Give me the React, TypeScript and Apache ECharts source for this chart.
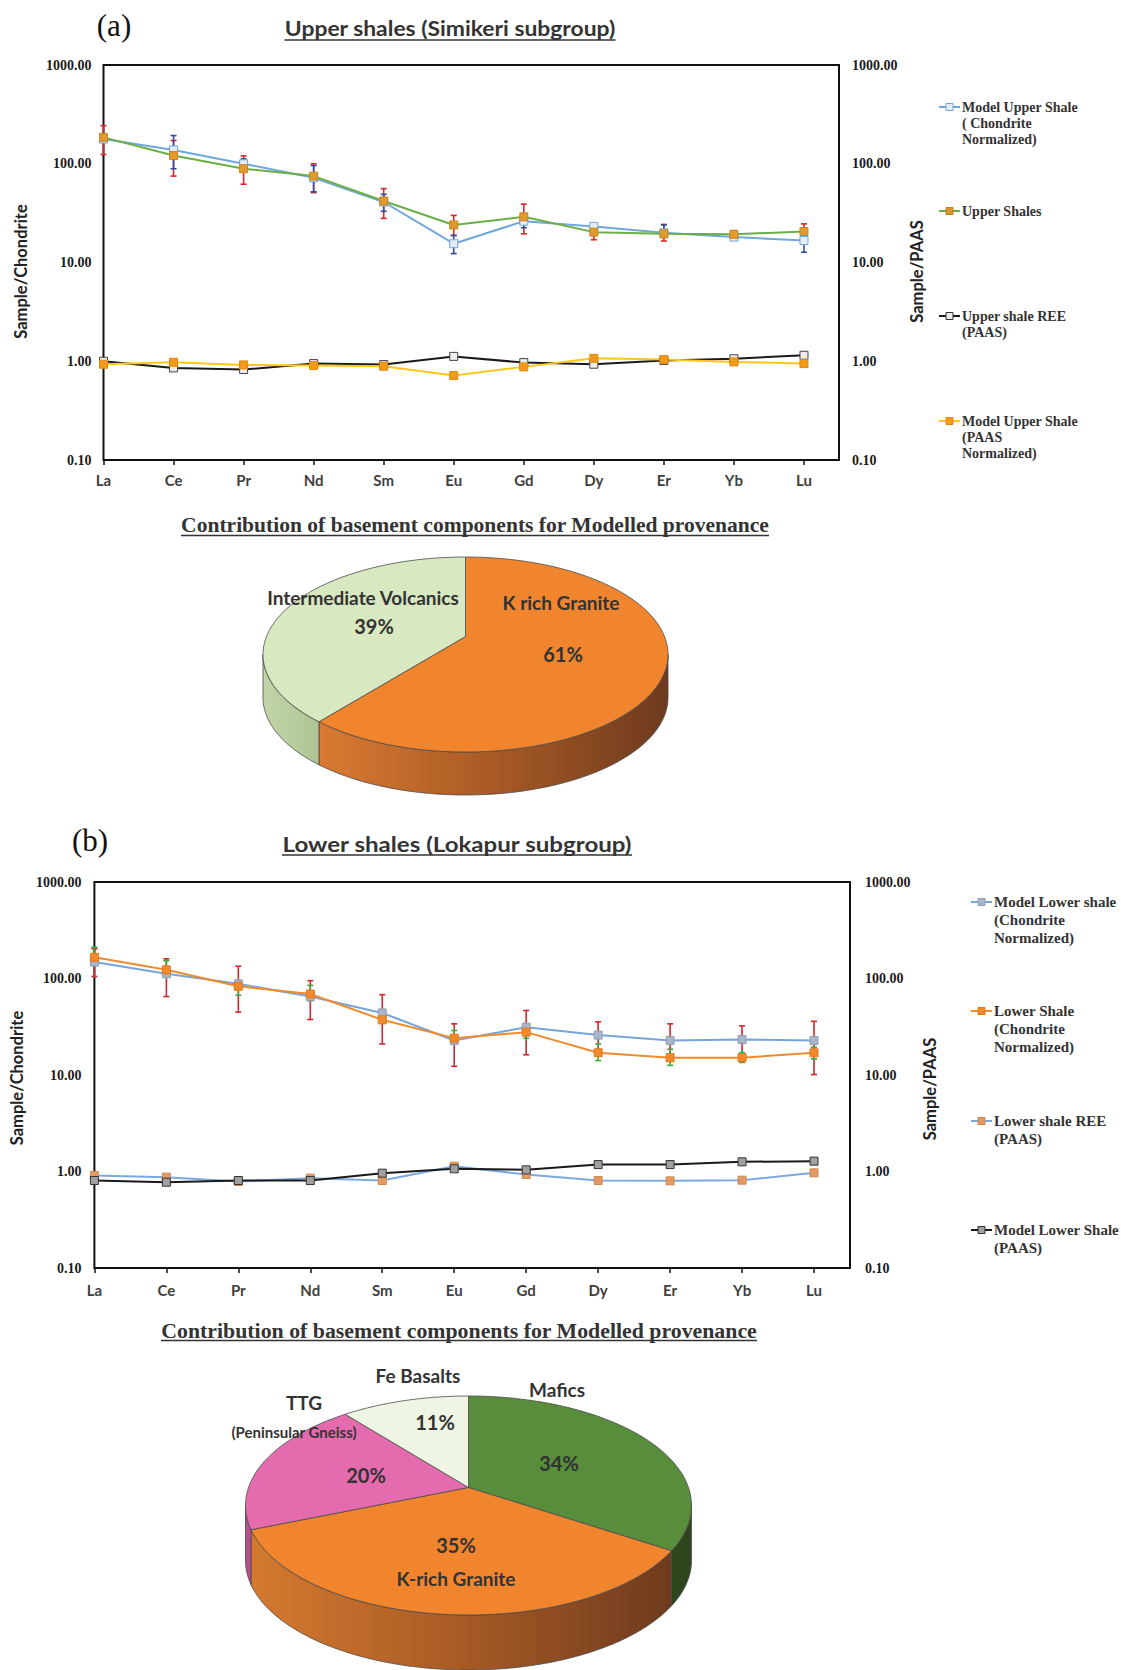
import React, { useEffect, useRef } from "react";
import * as echarts from "echarts";

// ---------------- categories ----------------
const elements = ["La", "Ce", "Pr", "Nd", "Sm", "Eu", "Gd", "Dy", "Er", "Yb", "Lu"];

// ---------------- (a) Upper shales (Simikeri subgroup) ----------------
const modelUpperChondrite = [178, 138, 100, 72, 41, 15.5, 26.2, 23.2, 20.0, 18.1, 16.7];
const upperShales = [185, 121, 89, 75, 42, 24, 29, 20.3, 19.5, 19.3, 20.6];
const upperShalesErrHigh = [243, 172, 120, 100, 56, 30, 39, 23, 24.3, 21, 24.6];
const upperShalesErrLow = [124, 75, 62, 51, 28, 18.8, 19.5, 17, 16.5, 18, 17];
const modelUpperErrHigh = [null, 193, 112, 96, 49, 18.8, 29.5, null, 24, 19.5, 19.5];
const modelUpperErrLow = [null, 89, 86, 52, 33, 12.3, 22.5, null, 18, 17.2, 12.7];
const upperShaleREEPaas = [1.0, 0.856, 0.824, 0.947, 0.925, 1.12, 0.969, 0.933, 1.02, 1.06, 1.15];
const modelUpperPaas = [0.933, 0.977, 0.918, 0.904, 0.89, 0.716, 0.877, 1.07, 1.04, 0.985, 0.947];

// ---------------- (b) Lower shales (Lokapur subgroup) ----------------
const modelLowerChondrite = [148, 112, 88, 65, 44, 22.8, 31.3, 25.9, 22.8, 23.3, 22.8];
const lowerShaleChondrite = [166, 123, 83, 69, 37.3, 24.1, 27.8, 17, 15.1, 15.1, 17];
const lowerShaleErrHigh = [203, 160, 134, 95, 68, 33.9, 46.6, 35.6, 33.9, 32.3, 36];
const lowerShaleErrLow = [105, 65, 44.8, 37.6, 21, 12.3, 16.2, 17, 14, 15, 10.1];
const lowerGreenErrHigh = [211, 153, 95, 85, null, 28.9, 27, 21, 18.5, 17, 19.4];
const lowerGreenErrLow = [142, 131, 67, 59, null, 22.8, 24, 14.1, 12.6, 13.5, 14.7];
const lowerShaleREEPaas = [0.91, 0.874, 0.788, 0.853, 0.807, 1.135, 0.931, 0.807, 0.8, 0.813, 0.969];
const modelLowerPaas = [0.807, 0.775, 0.807, 0.807, 0.961, 1.066, 1.04, 1.18, 1.18, 1.26, 1.28];

// ---------------- pies ----------------
const pieAComponents = ["K rich Granite", "Intermediate Volcanics"];
const pieAPercent = [61, 39];
const pieBComponents = ["Mafics", "K-rich Granite", "TTG (Peninsular Gneiss)", "Fe Basalts"];
const pieBPercent = [34, 35, 20, 11];

// ---------------- texts ----------------
const legendANames = [
  "Model Upper Shale\n( Chondrite\nNormalized)",
  "Upper Shales",
  "Upper shale REE\n(PAAS)",
  "Model Upper Shale\n(PAAS\nNormalized)",
];
const legendBNames = [
  "Model Lower shale\n(Chondrite\nNormalized)",
  "Lower Shale\n(Chondrite\nNormalized)",
  "Lower shale REE\n(PAAS)",
  "Model Lower Shale\n(PAAS)",
];

const SANS = "Lato, 'Open Sans', sans-serif";
const SERIF = "'Liberation Serif', 'Times New Roman', serif";

function measureWidth(text: string, font: string): number {
  const c = document.createElement("canvas");
  const ctx = c.getContext("2d");
  if (!ctx) return text.length * 10;
  ctx.font = font;
  return ctx.measureText(text).width;
}

function titleElements(text: string, cx: number, cy: number, underlineY: number, targetW: number,
  fontSize: number, family: string, canvasFamily: string, color: string) {
  const w = measureWidth(text, `bold ${fontSize}px ${canvasFamily}`);
  const sx = w > 0 ? targetW / w : 1;
  return [
    {
      type: "text", x: cx, y: cy, scaleX: sx, silent: true, z: 20,
      style: {
        text, fill: color, fontSize, fontFamily: family, fontWeight: "bold",
        align: "center", verticalAlign: "middle", textAlign: "center", textVerticalAlign: "middle",
      },
    },
    {
      type: "line", silent: true, z: 20,
      shape: { x1: cx - targetW / 2, y1: underlineY, x2: cx + targetW / 2, y2: underlineY },
      style: { stroke: color, lineWidth: 1.6 },
    },
  ];
}

function plainText(text: string, x: number, y: number, fontSize: number, family: string, weight: string,
  color: string) {
  return {
    type: "text", x, y, silent: true, z: 20,
    style: {
      text, fill: color, fontSize, fontFamily: family, fontWeight: weight,
      align: "center", verticalAlign: "middle", textAlign: "center", textVerticalAlign: "middle",
    },
  };
}

type LegendStyle = { line: string; fill: string; stroke: string };
function legendElements(names: string[], styles: LegendStyle[], x0: number, x1: number, textX: number,
  ys: number[], fontSize: number, lineHeight: number) {
  const out: any[] = [];
  names.forEach((n, i) => {
    const y = ys[i];
    const s = styles[i];
    const mid = (x0 + x1) / 2;
    out.push({ type: "line", silent: true, z: 20, shape: { x1: x0, y1: y, x2: x1, y2: y }, style: { stroke: s.line, lineWidth: 2 } });
    out.push({ type: "rect", silent: true, z: 21, shape: { x: mid - 3.5, y: y - 3.5, width: 7, height: 7 }, style: { fill: s.fill, stroke: s.stroke, lineWidth: 1 } });
    out.push({
      type: "text", x: textX, y: y - lineHeight / 2, silent: true, z: 20,
      style: {
        text: n, fill: "#333", fontSize, fontFamily: SERIF, fontWeight: "bold", lineHeight,
        align: "left", verticalAlign: "top", textAlign: "left", textVerticalAlign: "top",
      },
    });
  });
  return out;
}

const tickIdx = elements.map((_, i) => i);

function xAxisCfg(gridIndex: number, margin: number) {
  return {
    type: "value", gridIndex, min: 0, max: 10.5, interval: 1,
    axisLine: { show: false }, splitLine: { show: false },
    axisTick: { show: true, inside: false, length: 5, customValues: tickIdx, lineStyle: { color: "#111", width: 1.5 } },
    axisLabel: {
      customValues: tickIdx, margin,
      formatter: (v: number) => (Math.abs(v - Math.round(v)) < 1e-6 ? elements[Math.round(v)] ?? "" : ""),
      fontFamily: SANS, fontWeight: "bold", fontSize: 15, color: "#404040",
    },
  };
}

function yAxisCfg(gridIndex: number, position: string, name: string, nameGap: number, margin: number, shiftDown: number) {
  return {
    type: "log", logBase: 10, gridIndex, position, min: 0.1, max: 1000,
    name, nameLocation: "middle", nameGap, nameRotate: 90,
    nameTextStyle: { fontFamily: SANS, fontWeight: "bold", fontSize: 16.5, color: "#222", padding: [0, shiftDown * 2, 0, 0] },
    axisLine: { show: false }, axisTick: { show: false }, splitLine: { show: false }, minorTick: { show: false },
    axisLabel: {
      margin, formatter: (v: number) => Number(v).toFixed(2),
      fontFamily: SERIF, fontWeight: "bold", fontSize: 14, color: "#1a1a1a",
    },
  };
}

function lineSeries(name: string, data: number[], xi: number, yi: number, line: string, fill: string, stroke: string) {
  return {
    type: "line", name, xAxisIndex: xi, yAxisIndex: yi,
    data: data.map((v, i) => [i, v]),
    symbol: "rect", symbolSize: 8, showSymbol: true, z: 4,
    lineStyle: { color: line, width: 2 },
    itemStyle: { color: fill, borderColor: stroke, borderWidth: 1 },
  };
}

function errorSeries(name: string, high: (number | null)[], low: (number | null)[], xi: number, yi: number, color: string) {
  const data: number[][] = [];
  high.forEach((h, i) => {
    const l = low[i];
    if (h != null && l != null) data.push([i, l, h]);
  });
  return {
    type: "custom", name, xAxisIndex: xi, yAxisIndex: yi, silent: true, z: 3,
    data, encode: { x: 0, y: [1, 2] },
    renderItem: (params: any, api: any) => {
      const x = api.value(0);
      const pLo = api.coord([x, api.value(1)]);
      const pHi = api.coord([x, api.value(2)]);
      const cap = 3;
      const style = { stroke: color, lineWidth: 1.6 };
      return {
        type: "group",
        children: [
          { type: "line", shape: { x1: pLo[0], y1: pLo[1], x2: pHi[0], y2: pHi[1] }, style },
          { type: "line", shape: { x1: pHi[0] - cap, y1: pHi[1], x2: pHi[0] + cap, y2: pHi[1] }, style },
          { type: "line", shape: { x1: pLo[0] - cap, y1: pLo[1], x2: pLo[0] + cap, y2: pLo[1] }, style },
        ],
      };
    },
  };
}

// 3D pie: top face is an ellipse; the (perspective) pie centre sits `apex` px above the ellipse centre.
type PieGeom = { cx: number; cy: number; rx: number; ry: number; apex: number; depth: number };
function pie3DSeries(name: string, labels: string[], values: number[], topColors: string[], wallFills: any[], g: PieGeom) {
  const total = values.reduce((a, b) => a + b, 0);
  const starts: number[] = [];
  let acc = 0;
  values.forEach((v) => { starts.push(acc); acc += v; });
  const angle = (f: number) => -Math.PI / 2 + (f / total) * Math.PI * 2;
  const ax = g.cx, ay = g.cy - g.apex;
  const rimParam = (phi: number) => {
    const dx = g.rx * Math.cos(phi), dy = g.ry * Math.sin(phi);
    const A = (dx / g.rx) ** 2 + (dy / g.ry) ** 2;
    const oy = (ay - g.cy) / g.ry;
    const B = 2 * oy * (dy / g.ry);
    const C = oy * oy - 1;
    const t = (-B + Math.sqrt(B * B - 4 * A * C)) / (2 * A);
    const px = ax + t * dx, py = ay + t * dy;
    let th = Math.atan2((py - g.cy) / g.ry, (px - g.cx) / g.rx);
    while (th < phi - Math.PI) th += 2 * Math.PI;
    while (th > phi + Math.PI) th -= 2 * Math.PI;
    return th;
  };
  const pt = (a: number, dy: number) => [g.cx + g.rx * Math.cos(a), g.cy + g.ry * Math.sin(a) + dy];
  const arc = (a0: number, a1: number, dy: number) => {
    const n = Math.max(4, Math.ceil(Math.abs(a1 - a0) / 0.02));
    const out: number[][] = [];
    for (let k = 0; k <= n; k++) out.push(pt(a0 + ((a1 - a0) * k) / n, dy));
    return out;
  };
  return {
    type: "custom", name, coordinateSystem: "none", silent: true, z: 1,
    data: values.map((v, i) => ({ name: labels[i], value: v })),
    renderItem: (params: any) => {
      const i = params.dataIndex;
      const t0 = rimParam(angle(starts[i]));
      const t1 = rimParam(angle(starts[i] + values[i]));
      const children: any[] = [];
      const lo = Math.max(t0, 0);
      const hi = Math.min(t1, Math.PI);
      if (hi > lo) {
        const pts = arc(lo, hi, 0).concat(arc(hi, lo, g.depth));
        children.push({ type: "polygon", shape: { points: pts }, style: { fill: wallFills[i], stroke: "#4a4a4a", lineWidth: 0.8 } });
      }
      const top = [[ax, ay]].concat(arc(t0, t1, 0));
      children.push({ type: "polygon", shape: { points: top }, style: { fill: topColors[i], stroke: "#4a4a4a", lineWidth: 0.8 } });
      return { type: "group", children };
    },
  };
}

function grad(stops: string[]) {
  return new echarts.graphic.LinearGradient(0, 0, 1, 0,
    stops.map((c, i) => ({ offset: i / (stops.length - 1), color: c })));
}

function buildOption() {
  const pieA = { cx: 465.5, cy: 654.5, rx: 202.5, ry: 97.5, apex: 18, depth: 43 };
  const pieB = { cx: 468.5, cy: 1505.5, rx: 223, ry: 109.5, apex: 18, depth: 55 };

  const legendAStyles: LegendStyle[] = [
    { line: "#6FA6DC", fill: "#E4ECF6", stroke: "#6FA6DC" },
    { line: "#6AAE45", fill: "#D9952B", stroke: "#C07F1E" },
    { line: "#1a1a1a", fill: "#EDEDED", stroke: "#333" },
    { line: "#FFC61A", fill: "#F39A1B", stroke: "#E08A10" },
  ];
  const legendBStyles: LegendStyle[] = [
    { line: "#76A5DB", fill: "#A9B5C8", stroke: "#8FA0B8" },
    { line: "#F08A2C", fill: "#F08A2C", stroke: "#E07A1C" },
    { line: "#7AAAE0", fill: "#E39A62", stroke: "#D08850" },
    { line: "#1a1a1a", fill: "#A0A0A0", stroke: "#333" },
  ];

  const graphics: any[] = [
    plainText("(a)", 114, 25, 31, SERIF, "normal", "#111"),
    ...titleElements("Upper shales (Simikeri subgroup)", 450, 28, 40, 331, 21, SANS, "Lato", "#333"),
    ...titleElements("Contribution of basement components for Modelled provenance", 475, 525, 535.5, 588, 22, SERIF, "'Liberation Serif'", "#333"),
    plainText("(b)", 90, 840, 31, SERIF, "normal", "#111"),
    ...titleElements("Lower shales (Lokapur subgroup)", 457, 844, 855, 350, 21, SANS, "Lato", "#333"),
    ...titleElements("Contribution of basement components for Modelled provenance", 459, 1330, 1340.5, 596, 22, SERIF, "'Liberation Serif'", "#333"),
    ...legendElements(legendANames, legendAStyles, 939, 960, 962, [107, 211, 316, 421], 14, 16),
    ...legendElements(legendBNames, legendBStyles, 971, 992, 994, [902, 1011, 1121, 1230], 15, 18),
    // pie (a) labels
    plainText(pieAComponents[1], 363, 597, 19, SANS, "bold", "#333"),
    plainText(`${pieAPercent[1]}%`, 374, 626, 20, SANS, "bold", "#333"),
    plainText(pieAComponents[0], 561, 602, 19, SANS, "bold", "#333"),
    plainText(`${pieAPercent[0]}%`, 563, 654, 20, SANS, "bold", "#333"),
    // pie (b) labels
    plainText(pieBComponents[0], 557, 1389, 19, SANS, "bold", "#333"),
    plainText(`${pieBPercent[0]}%`, 559, 1463, 20, SANS, "bold", "#333"),
    plainText(pieBComponents[1], 456, 1578, 19, SANS, "bold", "#333"),
    plainText(`${pieBPercent[1]}%`, 456, 1545, 20, SANS, "bold", "#333"),
    plainText("TTG", 304, 1402, 19, SANS, "bold", "#333"),
    plainText("(Peninsular Gneiss)", 294, 1432, 15, SANS, "bold", "#333"),
    plainText(`${pieBPercent[2]}%`, 366, 1475, 20, SANS, "bold", "#333"),
    plainText(pieBComponents[3], 418, 1375, 19, SANS, "bold", "#333"),
    plainText(`${pieBPercent[3]}%`, 435, 1422, 20, SANS, "bold", "#333"),
  ];

  return {
    animation: false,
    backgroundColor: "#ffffff",
    grid: [
      { left: 103.5, top: 65, width: 735.5, height: 395, show: true, borderColor: "#111", borderWidth: 2, backgroundColor: "transparent" },
      { left: 88, top: 882, width: 762, height: 386, show: true, borderColor: "#111", borderWidth: 2, backgroundColor: "transparent" },
    ],
    xAxis: [xAxisCfg(0, 12), xAxisCfg(1, 14)],
    yAxis: [
      yAxisCfg(0, "left", "Sample/Chondrite", 74, 12, 9),
      yAxisCfg(0, "right", "Sample/PAAS", 62, 13, 9),
      yAxisCfg(1, "left", "Sample/Chondrite", 65, 13, 3),
      yAxisCfg(1, "right", "Sample/PAAS", 67, 15, 14),
    ],
    series: [
      errorSeries("Upper Shales error", upperShalesErrHigh, upperShalesErrLow, 0, 0, "#D6262C"),
      errorSeries("Model Upper Shale error", modelUpperErrHigh, modelUpperErrLow, 0, 0, "#2F4EA0"),
      lineSeries(legendANames[0], modelUpperChondrite, 0, 0, "#6FA6DC", "#E4ECF6", "#6FA6DC"),
      lineSeries(legendANames[1], upperShales, 0, 0, "#6AAE45", "#E09A2E", "#C98620"),
      lineSeries(legendANames[2], upperShaleREEPaas, 0, 1, "#1a1a1a", "#EDEDED", "#444"),
      lineSeries(legendANames[3], modelUpperPaas, 0, 1, "#FFC61A", "#F39A1B", "#E08A10"),

      errorSeries("Lower Shale error", lowerShaleErrHigh, lowerShaleErrLow, 1, 2, "#D6262C"),
      errorSeries("Model Lower shale error", lowerGreenErrHigh, lowerGreenErrLow, 1, 2, "#3DAA3D"),
      lineSeries(legendBNames[0], modelLowerChondrite, 1, 2, "#76A5DB", "#A9B5C8", "#8FA0B8"),
      lineSeries(legendBNames[1], lowerShaleChondrite, 1, 2, "#F08A2C", "#F08A2C", "#E07A1C"),
      lineSeries(legendBNames[2], lowerShaleREEPaas, 1, 3, "#7AAAE0", "#E39A62", "#D08850"),
      lineSeries(legendBNames[3], modelLowerPaas, 1, 3, "#1a1a1a", "#A0A0A0", "#333"),

      pie3DSeries("Upper shale provenance", pieAComponents, pieAPercent,
        ["#F0852E", "#D8E8C0"],
        [grad(["#D97A32", "#A85A25", "#6E3A1E"]), grad(["#C3D5A9", "#AFC493"])],
        pieA),
      pie3DSeries("Lower shale provenance", pieBComponents, pieBPercent,
        ["#578D3B", "#F0852E", "#E46CAE", "#EEF5E4"],
        ["#2D461D", grad(["#D47A30", "#A85A25", "#6E3B1E"]), "#B4508A", "#D5DDCB"],
        pieB),
    ],
    graphic: { elements: graphics },
  };
}

export default function App() {
  const ref = useRef<HTMLDivElement>(null);
  useEffect(() => {
    if (!ref.current) return;
    const chart = echarts.init(ref.current, undefined, { renderer: "svg" });
    chart.setOption(buildOption() as any);
    return () => chart.dispose();
  }, []);
  return (
    <div
      ref={ref}
      style={{ position: "absolute", left: 0, top: 0, width: 1121, height: 1670, background: "#fff" }}
    />
  );
}
